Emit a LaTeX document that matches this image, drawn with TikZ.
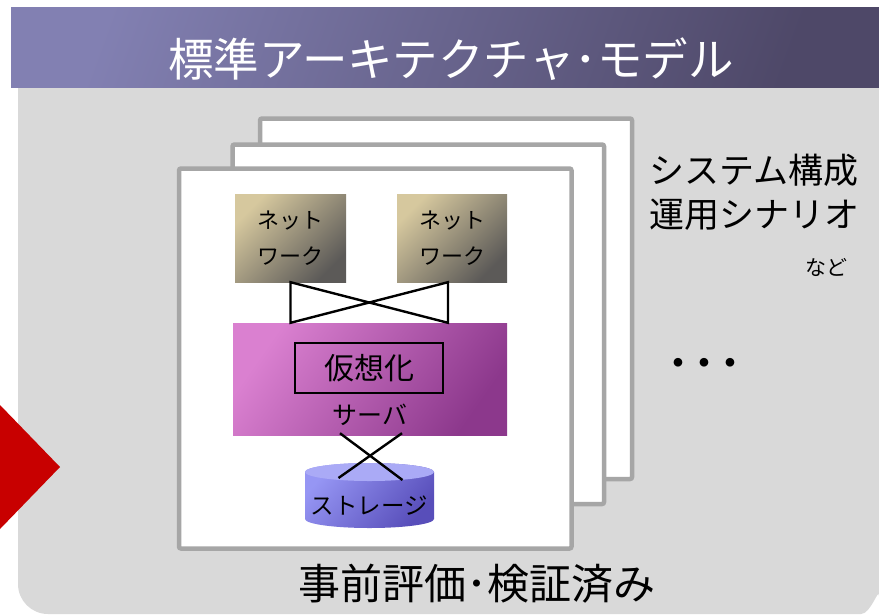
\documentclass[tikz,border=0pt]{standalone}
\usepackage{fontspec}
\setmainfont{Noto Sans CJK JP}
\usetikzlibrary{calc}
\definecolor{bgGray}{RGB}{217,217,217}
\definecolor{frameGray}{RGB}{166,166,166}
\definecolor{titleA}{RGB}{130,128,178}
\definecolor{titleB}{RGB}{78,72,104}
\definecolor{netA}{RGB}{214,200,158}
\definecolor{netB}{RGB}{92,90,88}
\definecolor{srvA}{RGB}{218,128,208}
\definecolor{srvB}{RGB}{140,56,140}
\definecolor{stTopC}{RGB}{170,170,246}
\definecolor{stA}{RGB}{150,150,244}
\definecolor{stB}{RGB}{88,78,186}
\definecolor{arrowRed}{RGB}{200,0,0}
\tikzset{
  framebox/.style={draw=frameGray, line width=4.5pt, fill=white, rounded corners=2pt},
  netbox/.style={minimum width=111pt, minimum height=88pt, inner sep=0pt, align=center,
    font=\fontsize{22}{36}\selectfont, top color=netA, bottom color=netB, shading angle=45},
  wire/.style={line width=2.4pt, black},
}
\begin{document}
\begin{tikzpicture}[x=1pt,y=-1pt]
\useasboundingbox (0,0) rectangle (879,614);
\fill[white] (0,0) rectangle (879,614);
% gray panel
\fill[bgGray] (18,87) -- (879,87) -- (879,596) to[out=90,in=0] (861,614) -- (48,614) arc[start angle=90, end angle=180, radius=30] -- cycle;
% title band
\shade[top color=titleA, bottom color=titleB, shading angle=70] (11,7) rectangle (879,87);
\node[text=white, font=\fontsize{45.5}{45.5}\selectfont] (title) at (451,59) {標準アーキテクチャ･モデル};
% red arrow
\fill[arrowRed] (0,405) -- (60,467) -- (0,529) -- cycle;
% stacked frames
\draw[framebox] (260,118.5) rectangle (632,479);
\draw[framebox] (232.5,144.5) rectangle (604,504);
\draw[framebox] (179,168.5) rectangle (571.5,548.5);
% network boxes
\node[netbox] (net1) at (290.5,238) {ネット\\ワーク};
\node[netbox, minimum width=110pt] (net2) at (452,238) {ネット\\ワーク};
% server
\node[minimum width=274pt, minimum height=112pt, inner sep=0pt, top color=srvA, bottom color=srvB, shading angle=55] (server) at (370,379) {};
\node[draw=black, line width=2.2pt, minimum width=148pt, minimum height=50pt, inner sep=0pt, font=\fontsize{30}{30}\selectfont] (virt) at (369,368) {仮想化};
\node[font=\fontsize{25}{25}\selectfont] (srvlabel) at (370,415) {サーバ};
% network wires
\draw[wire, line join=miter] (net1.south) -- (server.north -| net1.south) -- ($(net2.south)+(-4,0)$) -- ($(server.north -| net2.south)+(-4,0)$) -- cycle;
% storage cylinder
\coordinate (stTop) at (369.5,472);
\shade[top color=stA, bottom color=stB, shading angle=50] (305,472) -- (305,519) arc[start angle=180, end angle=0, x radius=64.5, y radius=9] -- (434,472) arc[start angle=0, end angle=-180, x radius=64.5, y radius=9] -- cycle;
\fill[stTopC] (stTop) ellipse[x radius=64.5, y radius=9];
\node[font=\fontsize{23.5}{23.5}\selectfont] (storage) at (369.5,506) {ストレージ};
% server-storage wires
\draw[wire] ($(server.south)+(-30,-2)$) -- ($(stTop)+(33,8)$);
\draw[wire] ($(server.south)+(32,-2)$) -- ($(stTop)+(-31,6)$);
% right texts
\node[anchor=west, align=left, font=\fontsize{35}{44}\selectfont] (sys) at (646,192) {システム構成\\運用シナリオ};
\node[font=\fontsize{21}{21}\selectfont] (nado) at (826,267) {など};
\node[font=\fontsize{52}{52}\selectfont] (dots) at (704,370) {･･･};
% bottom text
\node[font=\fontsize{42}{42}\selectfont] (bottom) at (477,584) {事前評価･検証済み};
\end{tikzpicture}
\end{document}
